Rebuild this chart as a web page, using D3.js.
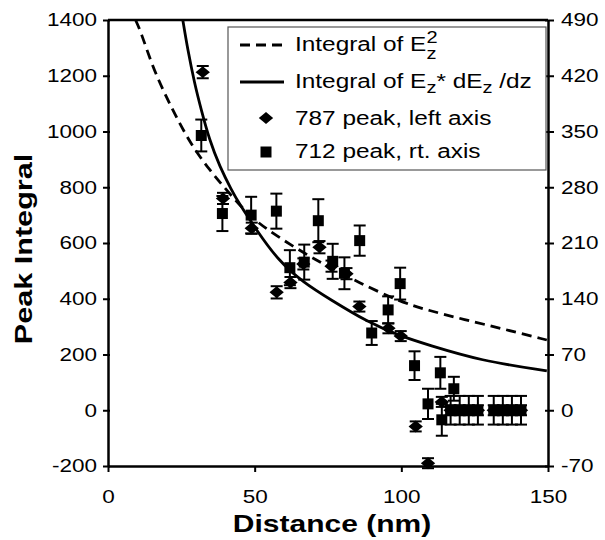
<!DOCTYPE html>
<html>
<head>
<meta charset="utf-8">
<script src="https://cdn.jsdelivr.net/npm/d3@7"></script>
<style>
body { margin: 0; background: #fff; }
svg { font-family: "Liberation Sans", Arial, Helvetica, sans-serif; }
</style>
</head>
<body>
<div id="chart"></div>
<script>
// values
var xTicks = [0, 50, 100, 150];
var leftTicks = [-200, 0, 200, 400, 600, 800, 1000, 1200, 1400];
var rightTicks = [-70, 0, 70, 140, 210, 280, 350, 420, 490];

// 787 peak, left axis
var p787x = [32.3, 39.2, 49, 57.5, 62.2, 66.6, 72.1, 76.2, 81.3, 85.7, 95.6, 99.8, 104.9, 109.1, 113.8,
             116.8, 119.9, 123, 126.1, 131.5, 134.6, 137.7, 140.8];
var p787y = [1213, 760, 653, 423, 458, 525, 585, 517, 490, 372, 294, 266, -58, -190, 30,
             0, 0, 0, 0, 0, 0, 0, 0];
var p787err = [22, 20, 20, 22, 20, 20, 22, 20, 20, 18, 18, 18, 18, 18, 18,
               18, 18, 18, 18, 18, 18, 18, 18];

// 712 peak, right axis
var p712x = [31.8, 39, 48.8, 57.4, 62, 66.9, 71.7, 76.6, 80.6, 85.8, 89.9, 95.5, 99.6, 104.5, 109.1, 113.3, 113.8, 117.9,
             116.8, 119.9, 123, 126.1, 131.5, 134.6, 137.7, 140.8];
var p712y = [345, 247, 245, 250, 179, 186, 238, 187, 172, 213, 97, 126, 159, 56, 8, 47, -12, 27,
             0, 0, 0, 0, 0, 0, 0, 0];
var p712err = [20, 22, 23, 22, 22, 22, 27, 22, 20, 19, 15, 17, 20, 18, 19, 20, 20, 15,
               18, 18, 18, 18, 18, 18, 18, 18];

// Integral of Ez^2 (dashed)
var ez2X = [9.4, 11.2, 15.2, 19.8, 24.4, 28.9, 34.6, 40.4, 48.9, 57.9, 67.8, 75.7, 84.9, 99.6, 109.3, 121.2, 135.4, 149.6];
var ez2Y = [1400, 1358, 1232, 1125, 1029, 945, 862, 790, 688, 623, 557, 513, 461, 389, 358, 326, 290, 252];

// Integral of Ez * dEz/dz (solid)
var ezdX = [25.5, 27.2, 29.5, 31.8, 34.6, 38.1, 42.1, 44.9, 50.6, 57.9, 66.6, 75.7, 88.2, 99.6, 109.3, 126.9, 149.6];
var ezdY = [1400, 1292, 1173, 1077, 969, 874, 790, 738, 647, 539, 458, 398, 318, 266, 234, 178, 141];

var S = 1.25; // the figure's font is an extended sans, so stretch text along its baseline

var svg = d3.select('#chart').append('svg')
    .attr('width', 605)
    .attr('height', 540);

var x = d3.scaleLinear().domain([0, 150]).range([108, 548]);
var yL = d3.scaleLinear().domain([-200, 1400]).range([466, 20]);
var yR = d3.scaleLinear().domain([-70, 490]).range([466, 20]);

var plain = function (d) { return String(d); };

function stretchTicks(g, size) {
    g.attr('font-family', null).attr('font-size', size);
    g.selectAll('.tick text').each(function () {
        var t = d3.select(this);
        t.attr('fill', '#000')
            .attr('x', (+t.attr('x') || 0) / S)
            .attr('transform', 'scale(' + S + ',1)');
    });
    g.selectAll('.tick line').attr('stroke', '#000').attr('stroke-width', 2);
    g.select('.domain').attr('stroke', '#000').attr('stroke-width', 2.5);
}

// clip for the theory curves
svg.append('clipPath').attr('id', 'plot')
    .append('rect')
    .attr('x', x(0)).attr('y', yL(1400))
    .attr('width', x(150) - x(0)).attr('height', yL(-200) - yL(1400));

var line = d3.line()
    .x(function (d) { return x(d[0]); })
    .y(function (d) { return yL(d[1]); })
    .curve(d3.curveBasis);

svg.append('path')
    .attr('clip-path', 'url(#plot)')
    .attr('d', line(d3.zip(ez2X, ez2Y)))
    .attr('fill', 'none')
    .attr('stroke', '#000')
    .attr('stroke-width', 2.8)
    .attr('stroke-dasharray', '10,6');

svg.append('path')
    .attr('clip-path', 'url(#plot)')
    .attr('d', line(d3.zip(ezdX, ezdY)))
    .attr('fill', 'none')
    .attr('stroke', '#000')
    .attr('stroke-width', 2.8);

function errorBars(xs, ys, es, y) {
    var g = svg.append('g').attr('stroke', '#000').attr('stroke-width', 2);
    xs.forEach(function (v, i) {
        var top = y(ys[i] + es[i]), bot = y(ys[i] - es[i]), cx = x(v);
        g.append('line').attr('x1', cx).attr('x2', cx).attr('y1', top).attr('y2', bot);
        g.append('line').attr('x1', cx - 6).attr('x2', cx + 6).attr('y1', top).attr('y2', top);
        g.append('line').attr('x1', cx - 6).attr('x2', cx + 6).attr('y1', bot).attr('y2', bot);
    });
}

errorBars(p712x, p712y, p712err, yR);
errorBars(p787x, p787y, p787err, yL);

var diamond = d3.symbol().type(d3.symbolSquare).size(85);
var square = d3.symbol().type(d3.symbolSquare).size(121);

svg.append('g').selectAll('path')
    .data(d3.zip(p712x, p712y))
    .join('path')
    .attr('d', square)
    .attr('transform', function (d) { return 'translate(' + x(d[0]) + ',' + yR(d[1]) + ')'; })
    .attr('fill', '#000');

svg.append('g').selectAll('path')
    .data(d3.zip(p787x, p787y))
    .join('path')
    .attr('d', diamond)
    .attr('transform', function (d) { return 'translate(' + x(d[0]) + ',' + yL(d[1]) + ') scale(1.1,0.92) rotate(45)'; })
    .attr('fill', '#000');

// axes
var gL = svg.append('g').attr('transform', 'translate(' + x(0) + ',0)')
    .call(d3.axisLeft(yL).tickValues(leftTicks).tickFormat(plain).tickSize(5).tickPadding(6).tickSizeOuter(0));
stretchTicks(gL, 18);
gL.selectAll('.tick line').attr('x1', 2);

var gR = svg.append('g').attr('transform', 'translate(' + x(150) + ',0)')
    .call(d3.axisRight(yR).tickValues(rightTicks).tickFormat(plain).tickSize(6).tickPadding(7).tickSizeOuter(0));
stretchTicks(gR, 18);
gR.selectAll('.tick line').attr('x1', -3);

var gB = svg.append('g').attr('transform', 'translate(0,' + yL(-200) + ')')
    .call(d3.axisBottom(x).tickValues(xTicks).tickFormat(plain).tickSize(6).tickPadding(18).tickSizeOuter(0));
stretchTicks(gB, 18);

// top frame line
svg.append('line')
    .attr('x1', x(0)).attr('x2', x(150))
    .attr('y1', yL(1400)).attr('y2', yL(1400))
    .attr('stroke', '#000').attr('stroke-width', 2.5);

// axis titles
svg.append('text')
    .attr('transform', 'translate(' + ((x(0) + x(150)) / 2 + 4) + ',532) scale(' + S + ',1)')
    .attr('text-anchor', 'middle')
    .attr('font-weight', 'bold')
    .attr('font-size', 24)
    .text('Distance  (nm)');

svg.append('text')
    .attr('transform', 'translate(32,249) rotate(-90) scale(' + S + ',1)')
    .attr('text-anchor', 'middle')
    .attr('font-weight', 'bold')
    .attr('font-size', 24.5)
    .text('Peak Integral');

// legend
var leg = svg.append('g');
leg.append('rect')
    .attr('x', 228).attr('y', 27).attr('width', 318).attr('height', 143)
    .attr('fill', '#fff').attr('stroke', '#555').attr('stroke-width', 1.2);

leg.append('line').attr('x1', 240).attr('x2', 284).attr('y1', 45).attr('y2', 45)
    .attr('stroke', '#000').attr('stroke-width', 2.8).attr('stroke-dasharray', '10,6');
leg.append('line').attr('x1', 240).attr('x2', 284).attr('y1', 82).attr('y2', 82)
    .attr('stroke', '#000').attr('stroke-width', 2.8);
leg.append('path').attr('d', diamond)
    .attr('transform', 'translate(266,118) scale(1.1,0.92) rotate(45)');
leg.append('path').attr('d', square)
    .attr('transform', 'translate(266,152)');

function legText(yBase) {
    return leg.append('text')
        .attr('transform', 'translate(295,' + yBase + ') scale(' + S + ',1)')
        .attr('font-size', 19.5);
}

var t1 = legText(51);
t1.append('tspan').text('Integral of E');
t1.append('tspan').attr('font-size', 16).attr('dy', 8).text('z');
t1.append('tspan').attr('font-size', 16).attr('dx', -8).attr('dy', -16).text('2');

var t2 = legText(88);
t2.append('tspan').text('Integral of E');
t2.append('tspan').attr('font-size', 16).attr('dy', 5).text('z');
t2.append('tspan').attr('dy', -5).text('* dE');
t2.append('tspan').attr('font-size', 16).attr('dy', 5).text('z');
t2.append('tspan').attr('dy', -5).text(' /dz');

legText(125).text('787 peak, left axis');
legText(158).text('712 peak, rt. axis');
</script>
</body>
</html>
